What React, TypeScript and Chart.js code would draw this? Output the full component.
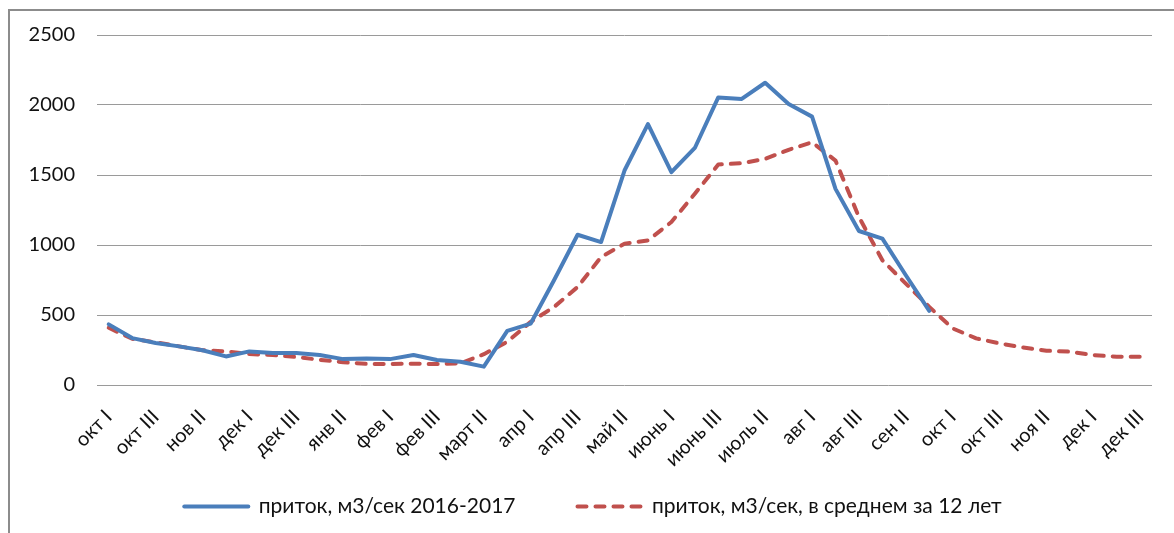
import React, { useEffect, useRef } from "react";
import { Chart, registerables } from "chart.js";

Chart.register(...registerables);

const categories: string[] = [
  "окт I", "окт II", "окт III",
  "нов I", "нов II", "нов III",
  "дек I", "дек II", "дек III",
  "янв I", "янв II", "янв III",
  "фев I", "фев II", "фев III",
  "март I", "март II", "март III",
  "апр I", "апр II", "апр III",
  "май I", "май II", "май III",
  "июнь I", "июнь II", "июнь III",
  "июль I", "июль II", "июль III",
  "авг I", "авг II", "авг III",
  "сен I", "сен II", "сен III",
  "окт I", "окт II", "окт III",
  "ноя I", "ноя II", "ноя III",
  "дек I", "дек II", "дек III",
];

const inflow2016_2017: (number | null)[] = [
  433, 335, 300, 276, 248, 204, 240, 228, 228, 214, 185, 190,
  185, 214, 178, 166, 131, 387, 439, 750, 1073, 1021, 1532, 1864,
  1520, 1693, 2054, 2043, 2159, 2007, 1917, 1401, 1100, 1045, 784, 530,
  null, null, null, null, null, null, null, null, null,
];

const inflowAverage12y: number[] = [
  409, 330, 305, 276, 248, 240, 221, 214, 200, 180, 163, 151,
  150, 152, 150, 154, 220, 309, 451, 558, 700, 914, 1009, 1033,
  1164, 1366, 1575, 1584, 1615, 1680, 1734, 1603, 1200, 891, 724, 558,
  404, 333, 297, 268, 245, 238, 214, 202, 202,
];

const seriesNames: string[] = [
  "приток, м3/сек 2016-2017",
  "приток, м3/сек, в среднем за 12 лет",
];

const yTicks: number[] = [0, 500, 1000, 1500, 2000, 2500];

const FONT = "Lato, 'Open Sans', 'Noto Sans', sans-serif";

const legendPlacer = {
  id: "legendPlacer",
  afterLayout(chart: any) {
    const lg = chart.legend;
    if (!lg) return;
    lg.left = 34;
    lg.right = 1152;
    lg.width = lg.right - lg.left;
    lg.top = 434;
    lg.bottom = 533;
    lg.height = lg.bottom - lg.top;
  },
};

export default function App() {
  const ref = useRef<HTMLCanvasElement | null>(null);

  useEffect(() => {
    if (!ref.current) return;
    const chart = new Chart(ref.current, {
      type: "line",
      data: {
        labels: categories,
        datasets: [
          {
            label: seriesNames[0],
            data: inflow2016_2017,
            borderColor: "#4A7EBB",
            backgroundColor: "#4A7EBB",
            borderWidth: 4,
            pointRadius: 0,
            tension: 0,
            spanGaps: false,
            borderJoinStyle: "round",
            borderCapStyle: "round",
          },
          {
            label: seriesNames[1],
            data: inflowAverage12y,
            borderColor: "#C0504D",
            backgroundColor: "#C0504D",
            borderWidth: 4,
            borderDash: [9, 9],
            borderCapStyle: "round",
            borderJoinStyle: "round",
            pointRadius: 0,
            tension: 0,
          },
        ],
      },
      plugins: [legendPlacer],
      options: {
        animation: false,
        responsive: false,
        devicePixelRatio: 1,
        layout: { padding: { left: 0, right: 22, top: 35, bottom: 9 } },
        plugins: {
          tooltip: { enabled: false },
          legend: {
            position: "bottom",
            maxHeight: 40,
            labels: {
              usePointStyle: true,
              pointStyle: "line",
              pointStyleWidth: 64,
              padding: 62,
              color: "#111",
              font: { family: FONT, size: 21 },
              generateLabels: (c: any) => {
                const items = Chart.defaults.plugins.legend.labels.generateLabels(c);
                return items.map((it: any) => {
                  const ds: any = c.data.datasets[it.datasetIndex];
                  return {
                    ...it,
                    lineDash: ds.borderDash || [],
                    lineWidth: ds.borderWidth,
                    lineCap: ds.borderCapStyle || "butt",
                    strokeStyle: ds.borderColor,
                    fillStyle: ds.borderColor,
                    pointStyle: "line",
                  };
                });
              },
            },
          },
        },
        scales: {
          x: {
            offset: true,
            grid: { display: false },
            border: { display: false },
            afterFit: (s: any) => { s.height = 99; },
            ticks: {
              autoSkip: false,
              minRotation: 45,
              maxRotation: 45,
              padding: 12,
              color: "#111",
              font: { family: FONT, size: 20 },
              callback: (_v: any, i: number) => (i % 2 === 0 ? categories[i] : ""),
            },
          },
          y: {
            min: yTicks[0],
            max: yTicks[yTicks.length - 1],
            afterFit: (s: any) => { s.width = 97; },
            afterBuildTicks: (s: any) => { s.ticks = yTicks.map((v) => ({ value: v })); },
            grid: { color: "#9a9a9a", lineWidth: 1, drawTicks: false },
            border: { display: false },
            ticks: {
              padding: 22,
              color: "#111",
              font: { family: FONT, size: 20 },
              callback: (v: any) => String(v),
            },
          },
        },
      },
    });
    return () => chart.destroy();
  }, []);

  return (
    <div style={{ position: "fixed", left: 0, top: 0, width: 1174, height: 533, overflow: "hidden", background: "#fff" }}>
      <canvas ref={ref} width={1174} height={533} style={{ position: "absolute", left: 0, top: 0 }} />
      <div style={{ position: "absolute", left: 8, top: 9, width: 1300, height: 700, borderLeft: "2px solid #8c8c8c", borderTop: "2px solid #8c8c8c", pointerEvents: "none" }} />
    </div>
  );
}
